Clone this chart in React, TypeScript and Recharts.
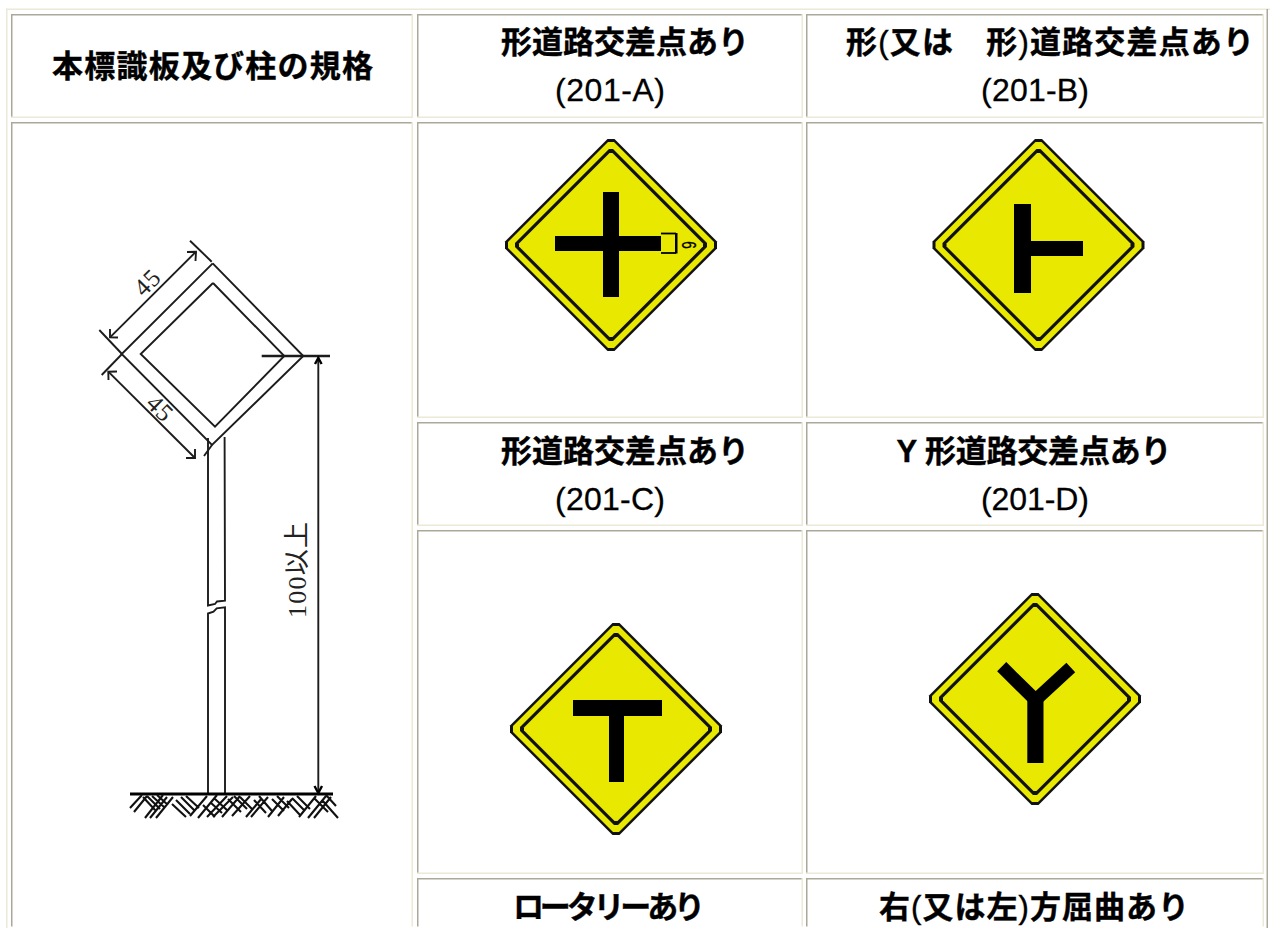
import React from "react";
import { ComposedChart, XAxis, YAxis, Area, Line, ReferenceArea, ReferenceDot } from "recharts";

const PAGE_W = 1270;
const PAGE_H = 928;
const LIGHT = "#ece9d8";
const DARK = "#aca899";
const SIGN_YELLOW = "#e8e800";
const INK = "#1c1c1c";

// table cells: left, right, top, bottom
const tableCells = [
  [11, 413, 14, 118],
  [417, 803, 14, 118],
  [806, 1264, 14, 118],
  [11, 413, 122, 940],
  [417, 803, 122, 418],
  [806, 1264, 122, 418],
  [417, 803, 422, 526],
  [806, 1264, 422, 526],
  [417, 803, 530, 874],
  [806, 1264, 530, 874],
  [417, 803, 878, 940],
  [806, 1264, 878, 940],
];

// outer frame bands: x1, x2, y1, y2, colour
const frameBands: [number, number, number, number, string][] = [
  [6, 1270, 8.5, 10, LIGHT],
  [6, 7.5, 8.5, 928, LIGHT],
  [1266.5, 1268, 9, 928, DARK],
];

// sign centres and half diagonals
const signCenters = [
  [611, 245],
  [1038.5, 245],
  [616, 729],
  [1035, 699],
];
const signLayers = [
  { half: 109.5, cut: 3.5, fill: "#111" },
  { half: 106, cut: 3, fill: SIGN_YELLOW },
  { half: 98, cut: 2, fill: "#111" },
  { half: 93.5, cut: 1.5, fill: SIGN_YELLOW },
];

// black filled sign glyph rectangles: x1, x2, y1, y2
const glyphRects = [
  [603, 619, 192, 297],
  [555, 661, 236, 251],
  [675, 677.5, 233, 253.5],
  [1014, 1031, 204, 293],
  [1031, 1083, 241, 256],
  [573, 662, 700, 716],
  [609, 624, 716, 782],
  [1027.3, 1043.5, 700, 763],
];

// sign glyph strokes
const yArms = [
  { x: 1001.7, y: 666.7 },
  { x: 1035.5, y: 700 },
  { x: 1070.8, y: 667.5 },
];
const widthMarkTop = [
  { x: 661, y: 233.5 },
  { x: 676, y: 233.5 },
];
const widthMarkBottom = [
  { x: 661, y: 253 },
  { x: 676, y: 253 },
];

// elevation drawing outlines
const boardOuter = [
  { x: 212.7, y: 263.3 },
  { x: 303.3, y: 356 },
  { x: 212, y: 445 },
  { x: 121.7, y: 354 },
  { x: 212.7, y: 263.3 },
];
const boardInner = [
  { x: 213, y: 283 },
  { x: 284.3, y: 356 },
  { x: 215, y: 426.7 },
  { x: 140.7, y: 354 },
  { x: 213, y: 283 },
];
const drawingLines: { x: number; y: number }[][] = [
  [{ x: 190, y: 240.7 }, { x: 211.7, y: 261.7 }],
  [{ x: 99.3, y: 330 }, { x: 122, y: 354 }],
  [{ x: 122, y: 354 }, { x: 101.7, y: 375 }],
  [{ x: 110, y: 337.3 }, { x: 196, y: 251.7 }],
  [{ x: 108.3, y: 371.7 }, { x: 195, y: 458 }],
  [{ x: 204, y: 456 }, { x: 212, y: 445 }],
  [{ x: 208, y: 438 }, { x: 208, y: 605.5 }, { x: 215, y: 604 }, { x: 217, y: 601.5 }, { x: 225, y: 600.7 }, { x: 224.6, y: 437 }],
  [{ x: 225, y: 793 }, { x: 225, y: 607.3 }, { x: 216.7, y: 608.3 }, { x: 213.5, y: 611.7 }, { x: 208, y: 613.5 }, { x: 208, y: 793 }],
  [{ x: 318.3, y: 356 }, { x: 318.3, y: 793 }],
  [{ x: 110, y: 329 }, { x: 110, y: 337.3 }, { x: 118, y: 337.5 }],
  [{ x: 187, y: 252 }, { x: 196, y: 251.7 }, { x: 195.5, y: 261 }],
  [{ x: 108.5, y: 380 }, { x: 108.3, y: 371.7 }, { x: 117, y: 371.5 }],
  [{ x: 186, y: 458 }, { x: 195, y: 458 }, { x: 195, y: 449 }],
];
const dimensionBar = [
  { x: 261.7, y: 356 },
  { x: 330, y: 356 },
];
const groundLine = [
  { x: 130, y: 794 },
  { x: 333, y: 794 },
];
const arrowTop = [
  { x: 315, y: 364 },
  { x: 318.3, y: 358 },
  { x: 321.6, y: 364 },
];
const arrowBottom = [
  { x: 314.5, y: 786 },
  { x: 318.3, y: 793 },
  { x: 322, y: 786 },
];

// ground hatching, read stroke by stroke: x1, y1, x2, y2
const hatchStrokes = [
  [130, 808, 142, 795], [134, 812, 147, 796], [145, 818, 163, 795], [150, 818, 167, 797], [156, 818, 173, 797],
  [143, 797, 155, 810], [147, 796, 160, 809], [152, 796, 164, 807], [157, 795, 168, 805],
  [172, 804, 186, 817], [176, 800, 190, 814], [181, 797, 195, 811], [186, 796, 199, 808],
  [190, 816, 207, 796], [198, 818, 217, 795], [207, 817, 227, 796], [213, 817, 233, 797],
  [203, 805, 215, 817], [210, 802, 222, 813], [215, 799, 228, 811],
  [222, 817, 240, 796], [232, 816, 250, 796], [228, 799, 241, 812], [234, 796, 247, 809], [240, 797, 252, 809],
  [246, 817, 262, 798], [251, 817, 268, 797], [254, 800, 266, 813], [259, 796, 272, 811],
  [268, 817, 284, 797], [278, 816, 292, 799], [272, 799, 284, 811], [277, 796, 289, 808],
  [287, 801, 300, 815], [292, 798, 305, 811], [297, 796, 310, 809],
  [299, 817, 316, 796], [308, 818, 326, 796], [314, 818, 331, 797],
  [314, 798, 328, 812], [322, 800, 338, 818], [326, 795, 336, 806],
];

// table texts
const boldLabels = [
  "本標識板及び柱の規格",
  "形道路交差点あり",
  "形(又は　形)道路交差点あり",
  "形道路交差点あり",
  "Y 形道路交差点あり",
  "ロータリーあり",
  "右(又は左)方屈曲あり",
];
const boldLayout = [
  [212.5, 66, 321],
  [625, 42, 248],
  [1050, 42, 408],
  [625, 451, 248],
  [1034, 451, 275],
  [609, 907, 192],
  [1034, 907, 310],
];
const codeLabels = ["(201-A)", "(201-B)", "(201-C)", "(201-D)"];
const codeLayout = [
  [610, 90, 110],
  [1035, 90, 108],
  [610, 499, 110],
  [1035, 499, 108],
];

// drawing annotations: x, y, angle, size, length
const annotationTexts = ["45", "45", "100以上"];
const annotationLayout = [
  [147, 282.5, -45, 25, 26],
  [160, 408, 45, 25, 26],
  [297, 570, -90, 26, 96],
];

const toPoints = (strokes: number[][]) => {
  const out: { x: number; y: number | null }[] = [];
  strokes.forEach(([x1, y1, x2, y2]) => {
    out.push({ x: x1, y: y1 }, { x: x2, y: y2 }, { x: x2, y: null });
  });
  return out;
};

const diamond = (cx: number, cy: number, half: number, cut: number) => [
  { x: cx - (half - cut), range: [cy - cut, cy + cut] },
  { x: cx - cut, range: [cy - (half - cut), cy + (half - cut)] },
  { x: cx + cut, range: [cy - (half - cut), cy + (half - cut)] },
  { x: cx + (half - cut), range: [cy - cut, cy + cut] },
];

const rect = ([x1, x2, y1, y2]: number[]) => [
  { x: x1, range: [y1, y2] },
  { x: x2, range: [y1, y2] },
];

const band = (key: string, x1: number, x2: number, y1: number, y2: number, fill: string) => (
  <ReferenceArea
    key={key}
    x1={x1}
    x2={x2}
    y1={y1}
    y2={y2}
    fill={fill}
    fillOpacity={1}
    stroke="none"
    ifOverflow="hidden"
  />
);

const polyline = (key: string, data: any[], width = 1.9, color = INK) => (
  <Line
    key={key}
    data={data}
    dataKey="y"
    type="linear"
    stroke={color}
    strokeWidth={width}
    dot={false}
    activeDot={false}
    legendType="none"
    isAnimationActive={false}
  />
);

const filled = (key: string, data: any[], fill: string) => (
  <Area
    key={key}
    data={data}
    dataKey="range"
    type="linear"
    stroke="none"
    fill={fill}
    fillOpacity={1}
    dot={false}
    activeDot={false}
    legendType="none"
    isAnimationActive={false}
  />
);

// parentheses in the reference's bold titles are set lighter than the kanji
const titleParts = (text: string) =>
  text.split(/([()])/).map((part, i) =>
    part === "(" || part === ")" ? (
      <tspan key={i} fontWeight={400}>
        {part}
      </tspan>
    ) : (
      <tspan key={i}>{part}</tspan>
    )
  );

const label = (
  key: string,
  text: string,
  x: number,
  y: number,
  style: { size: number; weight: number; family: string; length: number; angle?: number; scaleX?: number; color?: string; bold?: number }
) => (
  <ReferenceDot
    key={key}
    x={x}
    y={y}
    r={0}
    ifOverflow="visible"
    shape={(p: any) => (
      <text
        x={0}
        y={0}
        transform={`translate(${p.cx} ${p.cy}) rotate(${style.angle ?? 0}) scale(${style.scaleX ?? 1} 1)`}
        textAnchor="middle"
        dominantBaseline="central"
        fontSize={style.size}
        fontWeight={style.weight}
        fontFamily={style.family}
        fill={style.color ?? "#000"}
        stroke={style.bold ? style.color ?? "#000" : "none"}
        strokeWidth={style.bold ?? 0}
        textLength={style.length}
        lengthAdjust="spacing"
      >
        {style.weight === 700 ? titleParts(text) : text}
      </text>
    )}
  />
);

const SANS = "'Liberation Sans', 'Noto Sans CJK JP', sans-serif";
const SERIF = "'Liberation Serif', 'Noto Sans CJK JP', serif";

export default function App() {
  return (
    <div style={{ position: "absolute", left: 0, top: 0, width: PAGE_W, height: PAGE_H, background: "#fff", overflow: "hidden" }}>
      <ComposedChart width={PAGE_W} height={PAGE_H} margin={{ top: 0, right: 0, bottom: 0, left: 0 }}>
        <XAxis type="number" dataKey="x" domain={[0, PAGE_W]} hide allowDataOverflow />
        <YAxis type="number" domain={[0, PAGE_H]} reversed hide allowDataOverflow width={0} />

        {frameBands.map(([x1, x2, y1, y2, c], i) => band(`f${i}`, x1, x2, y1, y2, c))}
        {tableCells.flatMap(([l, r, t, b], i) => [
          band(`ct${i}`, l, r, t, t + 1.5, DARK),
          band(`cl${i}`, l, l + 1.5, t, Math.min(b, PAGE_H), DARK),
          band(`cr${i}`, r - 1.5, r, t, Math.min(b, PAGE_H), LIGHT),
          band(`cb${i}`, l, r, Math.min(b, PAGE_H) - 1.5, Math.min(b, PAGE_H), b > PAGE_H ? "#fff" : LIGHT),
        ])}

        {signCenters.flatMap(([cx, cy], i) =>
          signLayers.map((layer, j) => filled(`s${i}-${j}`, diamond(cx, cy, layer.half, layer.cut), layer.fill))
        )}
        {glyphRects.map((g, i) => filled(`g${i}`, rect(g), "#000"))}

        {polyline("yarms", yArms, 13, "#000")}
        {polyline("wm1", widthMarkTop, 1.8, "#000")}
        {polyline("wm2", widthMarkBottom, 1.8, "#000")}
        {polyline("outer", boardOuter)}
        {polyline("inner", boardInner)}
        {drawingLines.map((l, i) => polyline(`d${i}`, l))}
        {polyline("bar", dimensionBar, 2.4)}
        {polyline("ground", groundLine, 2.8, "#000")}
        {polyline("aT", arrowTop, 2.4, "#000")}
        {polyline("aB", arrowBottom, 2.4, "#000")}
        {polyline("hatch", toPoints(hatchStrokes), 2.1, "#111")}

        {boldLabels.map((t, i) =>
          label(`b${i}`, t, boldLayout[i][0], boldLayout[i][1], { size: 31, weight: 700, family: SANS, length: boldLayout[i][2], bold: 0.4 })
        )}
        {codeLabels.map((t, i) =>
          label(`c${i}`, t, codeLayout[i][0], codeLayout[i][1], { size: 32, weight: 400, family: SANS, length: codeLayout[i][2], bold: 0.3 })
        )}
        {annotationTexts.map((t, i) =>
          label(`a${i}`, t, annotationLayout[i][0], annotationLayout[i][1], {
            angle: annotationLayout[i][2],
            size: annotationLayout[i][3],
            weight: 400,
            family: SERIF,
            length: annotationLayout[i][4],
            color: "#222",
          })
        )}
        {label("six", "6", 689, 245, { size: 21, weight: 400, family: SANS, length: 11, angle: 90, scaleX: 0.65, bold: 0.3 })}
      </ComposedChart>
    </div>
  );
}
